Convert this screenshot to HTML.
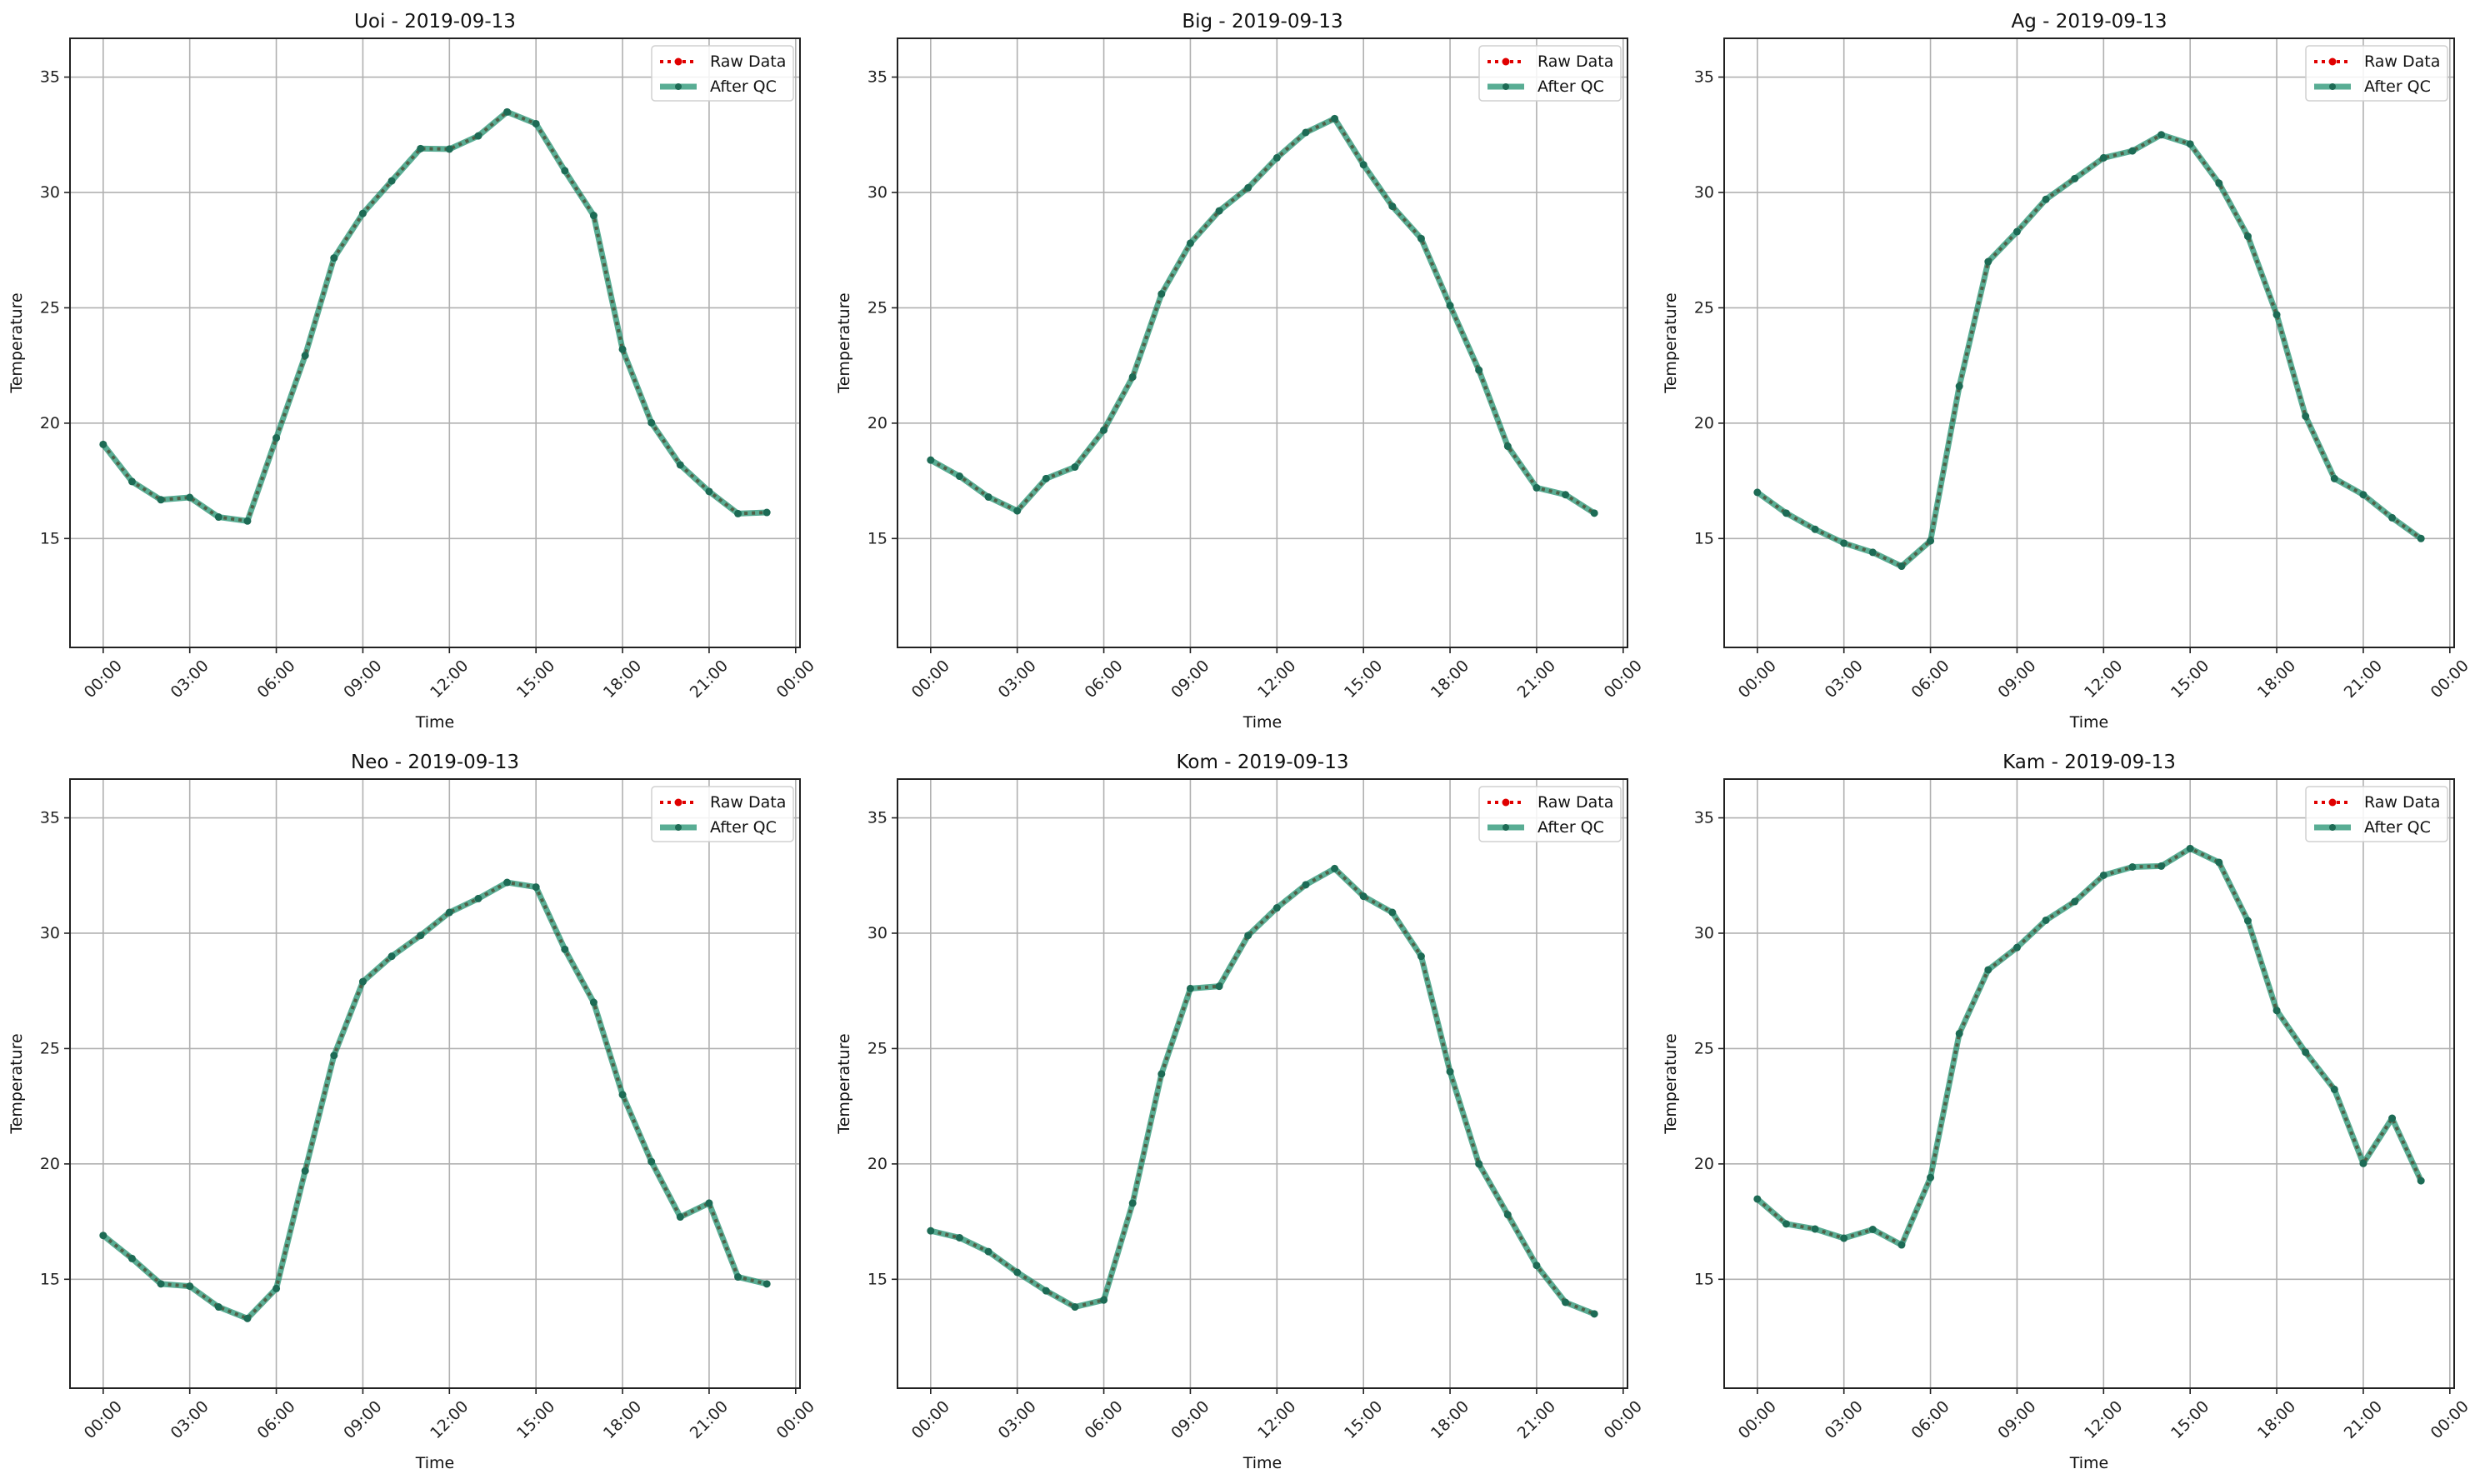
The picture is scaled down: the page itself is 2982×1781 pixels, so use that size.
<!DOCTYPE html>
<html><head><meta charset="utf-8"><style>
html,body{margin:0;padding:0;background:#fff;}
svg{display:block;font-family:"DejaVu Sans","Liberation Sans",sans-serif;}
</style></head><body>
<svg id="fig" width="2982" height="1781" viewBox="0 0 2982 1781" xmlns="http://www.w3.org/2000/svg"></svg>
<script>
const stations = ["Uoi","Big","Ag","Neo","Kom","Kam"];
const dateLabel = "2019-09-13";
const hours = [0,1,2,3,4,5,6,7,8,9,10,11,12,13,14,15,16,17,18,19,20,21,22,23];
const xTickHours = [0,3,6,9,12,15,18,21,24];
const xTickLabels = ["00:00","03:00","06:00","09:00","12:00","15:00","18:00","21:00","00:00"];
const yTicks = [15,20,25,30,35];
const seriesUoi = [19.08,17.47,16.68,16.78,15.93,15.76,19.36,22.93,27.16,29.09,30.5,31.9,31.88,32.45,33.49,32.98,30.94,29.0,23.2,20.02,18.19,17.04,16.08,16.13];
const seriesBig = [18.4,17.7,16.8,16.2,17.6,18.1,19.7,22.0,25.6,27.8,29.2,30.2,31.5,32.6,33.2,31.2,29.4,28.0,25.1,22.3,19.0,17.2,16.9,16.1];
const seriesAg = [17.0,16.1,15.4,14.8,14.4,13.8,14.9,21.6,27.0,28.3,29.7,30.6,31.5,31.8,32.5,32.1,30.4,28.1,24.7,20.3,17.6,16.9,15.9,15.0];
const seriesNeo = [16.9,15.9,14.8,14.7,13.8,13.3,14.6,19.7,24.7,27.9,29.0,29.9,30.9,31.5,32.2,32.0,29.3,27.0,23.0,20.1,17.7,18.3,15.1,14.8];
const seriesKom = [17.1,16.8,16.2,15.3,14.5,13.8,14.1,18.3,23.9,27.6,27.7,29.9,31.1,32.1,32.8,31.6,30.9,29.0,24.0,20.0,17.8,15.6,14.0,13.5];
const seriesKam = [18.48,17.4,17.18,16.78,17.16,16.49,19.41,25.65,28.41,29.38,30.56,31.37,32.51,32.87,32.91,33.67,33.07,30.54,26.65,24.84,23.23,20.02,21.98,19.27];
const allSeries = [seriesUoi,seriesBig,seriesAg,seriesNeo,seriesKom,seriesKam];

const NS="http://www.w3.org/2000/svg";
const fig=document.getElementById('fig');
function mk(tag,attrs,parent){const e=document.createElementNS(NS,tag);for(const k in attrs)e.setAttribute(k,attrs[k]);parent.appendChild(e);return e;}
const colL=[84,1077,2069], rowT=[46,935], W=876, H=731;
const xMin=-1.15,xMax=24.15,yMin=10.28,yMax=36.68;
allSeries.forEach((data,i)=>{
  const L=colL[i%3],T=rowT[Math.floor(i/3)];
  const sx=h=>L+(h-xMin)/(xMax-xMin)*W;
  const sy=v=>T+(yMax-v)/(yMax-yMin)*H;
  const g=mk('g',{},fig);
  
  
  const grid=mk('g',{},g);
  
  
  xTickHours.forEach((h,j)=>{
    const x=sx(h);
    mk('line',{x1:x,x2:x,y1:T,y2:T+H,stroke:'#b0b0b0','stroke-width':1.6},grid);
    mk('line',{x1:x,x2:x,y1:T+H,y2:T+H+7,stroke:'#222','stroke-width':1.6},g);
    const t=mk('text',{x:x,y:T+H+38,'font-size':19,'text-anchor':'middle','dominant-baseline':'central',transform:`rotate(-45 ${x} ${T+H+38})`,fill:'#222'},g);
    
    
    t.textContent=xTickLabels[j];
  });
  yTicks.forEach(v=>{
    const y=sy(v);
    mk('line',{x1:L,x2:L+W,y1:y,y2:y,stroke:'#b0b0b0','stroke-width':1.6},grid);
    mk('line',{x1:L-7,x2:L,y1:y,y2:y,stroke:'#222','stroke-width':1.6},g);
    const t=mk('text',{x:L-12,y:y,'font-size':19,'text-anchor':'end','dominant-baseline':'central',fill:'#222'},g);
    
    
    t.textContent=v;
  });
  const pts=hours.map((h,k)=>sx(h)+','+sy(data[k])).join(' ');
  const raw=mk('polyline',{points:pts,fill:'none',stroke:'#e00000','stroke-width':4,'stroke-dasharray':'4 5'},g);
  
  
  hours.forEach((h,k)=>{const c=mk('circle',{cx:sx(h),cy:sy(data[k]),r:4,fill:'#e00000'},g);
    
    });
  const qc=mk('polyline',{points:pts,fill:'none',stroke:'#138a66','stroke-width':7,'stroke-opacity':0.7,'stroke-linejoin':'round'},g);
  
  
  hours.forEach((h,k)=>{const c=mk('circle',{cx:sx(h),cy:sy(data[k]),r:4.5,fill:'#1d6b55'},g);
    
    });
  const fr=mk('rect',{x:L,y:T,width:W,height:H,fill:'none',stroke:'#222','stroke-width':2},g);
  
  
  const ti=mk('text',{x:L+W/2,y:T-13,'font-size':23,'text-anchor':'middle',fill:'#111'},g);
  
  
  ti.textContent=stations[i]+' - '+dateLabel;
  const xl=mk('text',{x:L+W/2,y:T+H+96,'font-size':19,'text-anchor':'middle',fill:'#111'},g);
  
  
  xl.textContent='Time';
  const yx=L-58, yy=T+H/2;
  const yl=mk('text',{x:yx,y:yy,'font-size':19,'text-anchor':'middle',transform:`rotate(-90 ${yx} ${yy})`,fill:'#111'},g);
  
  
  yl.textContent='Temperature';
  const lg=mk('g',{},g);
  
  
  const lx=L+W-178, ly=T+9;
  mk('rect',{x:lx,y:ly,width:170,height:66,rx:4,fill:'#fff','fill-opacity':0.85,stroke:'#d0d0d0','stroke-width':1.5},lg);
  mk('line',{x1:lx+10,x2:lx+54,y1:ly+19,y2:ly+19,stroke:'#e00000','stroke-width':4,'stroke-dasharray':'4 5'},lg);
  mk('circle',{cx:lx+32,cy:ly+19,r:4.5,fill:'#e00000'},lg);
  const t1=mk('text',{x:lx+70,y:ly+19,'font-size':19,'dominant-baseline':'central',fill:'#111'},lg);
  
  
  t1.textContent='Raw Data';
  mk('line',{x1:lx+10,x2:lx+54,y1:ly+49,y2:ly+49,stroke:'#138a66','stroke-width':7,'stroke-opacity':0.7},lg);
  mk('circle',{cx:lx+32,cy:ly+49,r:4,fill:'#1d6b55'},lg);
  const t2=mk('text',{x:lx+70,y:ly+49,'font-size':19,'dominant-baseline':'central',fill:'#111'},lg);
  
  
  t2.textContent='After QC';
});
</script>
</body></html>
